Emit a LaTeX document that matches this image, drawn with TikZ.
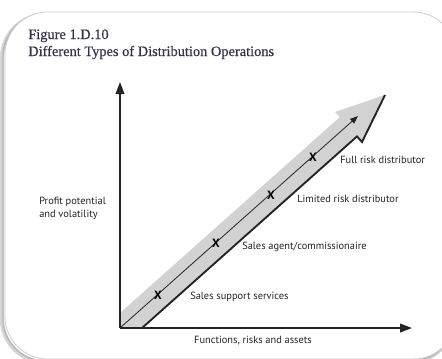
\documentclass[tikz,border=0pt]{standalone}
\usepackage{fontspec}
\setmainfont{Liberation Serif}
\newfontfamily\titlefont[FakeBold=0.4]{Liberation Serif}
\newfontfamily\labelfont{PT Sans}
\usetikzlibrary{arrows.meta}

\definecolor{framegray}{RGB}{205,205,205}
\definecolor{shadowgray}{RGB}{150,150,150}
\definecolor{bandgray}{RGB}{210,210,210}
\definecolor{inkgray}{RGB}{35,35,35}
\definecolor{titleblue}{RGB}{50,50,75}

\begin{document}
\begin{tikzpicture}[x=0.75pt,y=0.75pt,yscale=-1,xscale=1,
  lbl/.style={anchor=west,inner sep=0.75pt,font=\labelfont\fontsize{7.8}{9.75}\selectfont,text=inkgray},
  xmark/.style={inner sep=0pt,font=\labelfont\bfseries\fontsize{9}{9}\selectfont,text=black},
  ttl/.style={anchor=base west,inner sep=0pt,font=\titlefont\fontsize{10.8}{12.75}\selectfont,text=titleblue},
  axis/.style={draw=inkgray,line width=1.1pt,-{Triangle[length=9pt,width=6.5pt]}}]
\useasboundingbox (0,0) rectangle (442,358);

%Shape: Frame with shadow
\begin{scope}
\clip (0,0) rectangle (442,358);
\draw[shadowgray!40,line width=3pt,rounded corners=32pt] (2,15) rectangle (453,362);
\draw[shadowgray!70,line width=1pt,rounded corners=32pt] (3,14) rectangle (454,361);
\draw[framegray,line width=0.6pt,fill=white,rounded corners=32pt] (5,12) rectangle (456,359);
\end{scope}

% Text Node
\node[ttl] (title1) at (28,39) {Figure 1.D.10};
\node[ttl] (title2) at (28,56) {Different Types of Distribution Operations};

%Coordinates of the axes
\coordinate (O) at (120,328);
\coordinate (ytop) at (120,82);
\coordinate (xend) at (412,328);

%Shape: Big arrow (band)
\coordinate (u0) at (120,313);
\coordinate (ub) at (339.7,117.2);
\coordinate (lbar) at (335,112);
\coordinate (tip) at (385,95);
\coordinate (rbar) at (362,142);
\coordinate (lb) at (357,136.4);
\coordinate (l0) at (142,328);
\coordinate (mtip) at (358,116);
\fill[bandgray] (O) -- (u0) -- (ub) -- (lbar) -- (tip) -- (rbar) -- (lb) -- (l0) -- cycle;
\draw[inkgray,line width=1.4pt,line join=miter] (l0) -- (lb) -- (rbar) -- (tip);
\draw[inkgray,line width=0.6pt,-{Triangle[length=6pt,width=4.5pt]}] (O) -- (mtip);

%Straight Lines: axes
\draw[axis] (O) -- (ytop);
\draw[axis] (O) -- (xend);

% Text Node: marks
\node[xmark] (x1) at (158,295) {X};
\node[xmark] (x2) at (216,243) {X};
\node[xmark] (x3) at (271,195.5) {X};
\node[xmark] (x4) at (313,157) {X};

% Text Node: labels
\node[lbl] (sss) at (189,297) {Sales support services};
\node[lbl] (sac) at (241,246.5) {Sales agent/commissionaire};
\node[lbl] (lrd) at (296,199) {Limited risk distributor};
\node[lbl] (frd) at (339,160) {Full risk distributor};
\node[lbl,align=left] (ppv) at (38,208.5) {Profit potential\\and volatility};
\node[lbl,anchor=center] (fra) at (253,341) {Functions, risks and assets};

\end{tikzpicture}
\end{document}
